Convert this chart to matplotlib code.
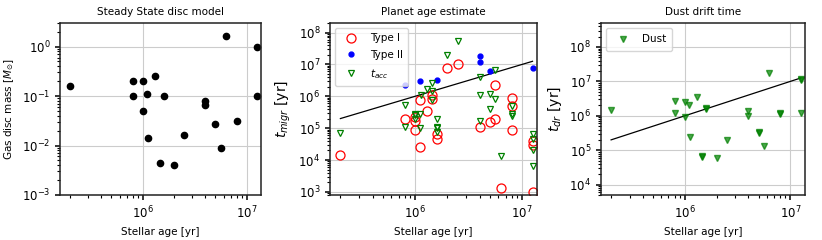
import numpy as np
import matplotlib
matplotlib.use("Agg")
import matplotlib.pyplot as plt

# disc masses vs stellar age
age_disc = [2e5, 8e5, 8e5, 1e6, 1e6, 1.1e6, 1.13e6, 1.3e6, 1.45e6, 1.6e6,
            2e6, 2.5e6, 4e6, 4e6, 5e6, 5.6e6, 6.3e6, 8e6, 1.25e7, 1.25e7]
m_disc = [0.16, 0.2, 0.1, 0.2, 0.05, 0.11, 0.014, 0.25, 0.0045, 0.1,
          0.004, 0.016, 0.08, 0.065, 0.027, 0.009, 1.6, 0.032, 1.0, 0.1]

# type I migration
age_t1 = [2e5, 8e5, 1e6, 1e6, 1e6, 1.1e6, 1.1e6, 1.3e6, 1.45e6, 1.45e6,
          1.6e6, 1.6e6, 2e6, 2.5e6, 4e6, 5e6, 5.6e6, 5.6e6, 6.3e6,
          8e6, 8e6, 8e6, 1.25e7, 1.25e7, 1.25e7]
t_t1 = [1.4e4, 1.9e5, 2.3e5, 1.7e5, 8.5e4, 7.5e5, 2.6e4, 3.5e5, 1.1e6, 8.5e5,
        6.5e4, 4.5e4, 7.8e6, 1.05e7, 1.1e5, 1.6e5, 2.2e6, 1.9e5, 1.3e3,
        9e5, 5e5, 9e4, 4e4, 3e4, 1e3]

# type II migration
age_t2 = [8e5, 1.1e6, 1.6e6, 4e6, 4e6, 5e6, 1.25e7]
t_t2 = [2.3e6, 3e6, 3.3e6, 1.8e7, 1.15e7, 6.2e6, 7.7e6]

# accretion time
age_acc = [2e5, 8e5, 8e5, 1e6, 1e6, 1e6, 1.1e6, 1.1e6, 1.13e6, 1.3e6,
           1.45e6, 1.45e6, 1.45e6, 1.6e6, 1.6e6, 1.6e6, 1.6e6, 2e6, 2.5e6,
           4e6, 4e6, 4e6, 5e6, 5e6, 5.6e6, 5.6e6, 6.3e6, 8e6, 8e6, 8e6,
           1.25e7, 1.25e7, 1.25e7, 1.25e7]
t_acc = [7e4, 5.5e5, 1.1e5, 2.8e5, 2.5e5, 2e5, 2.7e5, 1e5, 1.1e6, 1.7e6,
         2.7e6, 1.5e6, 7.5e5, 1.9e5, 1.1e5, 1e5, 7.5e4, 2e7, 5.3e7,
         4e6, 1.1e6, 1.7e5, 1.2e6, 4e5, 6.5e6, 8e5, 1.3e4, 5e5, 2.7e5, 2.4e5,
         6.5e4, 4.5e4, 2e4, 6.5e3]

# dust drift time
age_dust = [2e5, 8e5, 8e5, 1e6, 1e6, 1.1e6, 1.13e6, 1.3e6, 1.45e6, 1.45e6,
            1.6e6, 1.6e6, 2e6, 2.5e6, 4e6, 4e6, 5e6, 5e6, 5.6e6, 6.3e6,
            8e6, 8e6, 1.25e7, 1.25e7, 1.25e7]
t_dust = [1.5e6, 2.7e6, 1.2e6, 2.5e6, 9e5, 2e6, 2.5e5, 3.5e6, 6.5e4, 6.7e4,
          1.6e6, 1.65e6, 6e4, 2e5, 1.4e6, 1e6, 3.3e5, 3.1e5, 1.3e5, 1.8e7,
          1.15e6, 1.2e6, 1.2e7, 1.1e7, 1.2e6]

line_x = [2e5, 1.25e7]

fig = plt.figure(figsize=(8.22, 2.4), dpi=100)
ax1 = fig.add_axes([0.073, 0.1875, 0.2445, 0.717])
ax2 = fig.add_axes([0.4015, 0.1875, 0.2515, 0.717])
ax3 = fig.add_axes([0.731, 0.1875, 0.248, 0.717])

for ax in (ax1, ax2, ax3):
    ax.set_xscale("log")
    ax.set_yscale("log")
    ax.set_xlim(1.6e5, 1.37e7)
    ax.grid(True, which="major", color="#cccccc", lw=0.8)
    ax.set_axisbelow(True)
    ax.tick_params(labelsize=8.5, width=1.1, length=3.5)
    ax.tick_params(which="minor", width=0.8, length=2)
    for s in ax.spines.values():
        s.set_linewidth(1.1)
        s.set_color("#222222")
    ax.set_xlabel("Stellar age [yr]", fontsize=7.5)

ax1.plot(age_disc, m_disc, "o", color="k", ms=4.5)
ax1.set_ylim(1e-3, 3)
ax1.set_ylabel(r"Gas disc mass [$M_{\odot}$]", fontsize=7.5)
ax1.set_title("Steady State disc model", fontsize=7.5)

ax2.plot(line_x, line_x, "k-", lw=0.9)
ax2.plot(age_t1, t_t1, "o", mfc="none", mec="red", ms=6.5, mew=0.9, label="Type I")
ax2.plot(age_t2, t_t2, "o", color="blue", ms=3.5, label="Type II")
ax2.plot(age_acc, t_acc, "v", mfc="none", mec="green", ms=4.5, mew=0.9, label=r"$t_{acc}$")
ax2.set_ylim(8e2, 2e8)
ax2.set_ylabel(r"$t_{migr}$ [yr]", fontsize=10)
ax2.set_title("Planet age estimate", fontsize=7.5)
ax2.legend(loc="upper left", fontsize=7.5, handletextpad=0.8, borderpad=0.5,
           labelspacing=0.65)

ax3.plot(line_x, line_x, "k-", lw=0.9)
ax3.plot(age_dust, t_dust, "v", color="green", alpha=0.7, ms=5, label="Dust")
ax3.set_ylim(5e3, 5e8)
ax3.set_ylabel(r"$t_{dr}$ [yr]", fontsize=10)
ax3.set_title("Dust drift time", fontsize=7.5)
ax3.legend(loc="upper left", fontsize=7.5, handletextpad=0.8, borderpad=0.6)

plt.savefig("out.png", dpi=100)
